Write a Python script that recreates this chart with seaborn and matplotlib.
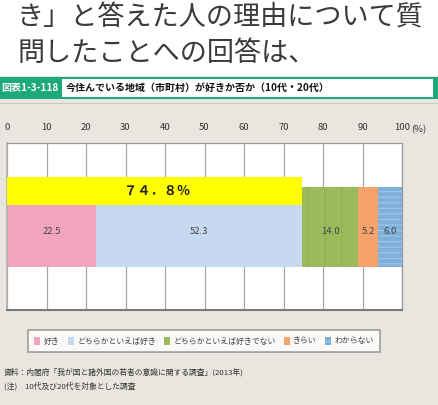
import matplotlib
matplotlib.use("Agg")
import matplotlib.pyplot as plt
import seaborn as sns
import numpy as np
import pandas as pd
from matplotlib.patches import Rectangle

categories = ["好き", "どちらかといえば好き", "どちらかといえば好きでない", "きらい", "わからない"]
values = [22.5, 52.3, 14.0, 5.2, 6.0]
value_labels = ["22.5", "52.3", "14.0", "5.2", "6.0"]
colors = ["#f2a5c1", "#c6d9f0", "#9bbb5b", "#f5a26c", "#7fb0da"]
hatches = [None, None, "|", None, "---"]
hatch_colors = [None, None, "#8db04d", None, "#9cc8ea"]
tick_values = [0, 10, 20, 30, 40, 50, 60, 70, 80, 90, 100]
tick_labels = ["0", "10", "20", "30", "40", "50", "60", "70", "80", "90", "100"]
like_total_label = "７４．８％"
headline = ["き」と答えた人の理由について質", "問したことへの回答は、"]
fig_no = "図表1-3-118"
title = "今住んでいる地域（市町村）が好きか否か（10代・20代）"
notes = ["資料：内閣府「我が国と諸外国の若者の意識に関する調査」(2013年)",
         "(注)　10代及び20代を対象とした調査"]

sns.set_style("white")
plt.rcParams['font.family'] = ['Noto Sans CJK JP', 'DejaVu Sans']
plt.rcParams['hatch.linewidth'] = 0.8

W, H = 438, 405
fig = plt.figure(figsize=(W / 100, H / 100), dpi=100)
fig.patch.set_facecolor("#e8e6df")

def fx(px):
    return px / W

def fy(py):
    return 1 - py / H

# top white area
fig.patches.append(Rectangle((0, fy(76)), 1, 1 - fy(76), transform=fig.transFigure,
                             facecolor="white", edgecolor="none", zorder=0))
# green band
fig.patches.append(Rectangle((0, fy(99)), 1, fy(77) - fy(99), transform=fig.transFigure,
                             facecolor="#1ea97c", edgecolor="none", zorder=1))
fig.patches.append(Rectangle((fx(62), fy(97)), fx(433) - fx(62), fy(79) - fy(97),
                             transform=fig.transFigure, facecolor="white",
                             edgecolor="none", zorder=2))
# thin line under band
fig.patches.append(Rectangle((0, fy(104)), 1, fy(102.5) - fy(104), transform=fig.transFigure,
                             facecolor="#c9c7bf", edgecolor="none", zorder=1))

for i, line in enumerate(headline):
    fig.text(fx(17), fy(18 + i * 35), line, fontsize=19.5, color="#3a3a3a",
             va="center", ha="left")
fig.text(fx(1), fy(88), fig_no, fontsize=7.2, color="white", fontweight="bold",
         va="center", ha="left", zorder=3, fontstretch="condensed")
fig.text(fx(66), fy(88), title, fontsize=7.2, color="#111111", fontweight="bold",
         va="center", ha="left", zorder=3)

# axes
ax = fig.add_axes([fx(7), fy(310), fx(402) - fx(7), fy(143) - fy(310)])
ax.set_facecolor("white")

cum = np.cumsum(values)
bar_h = 80 / 167
for i in reversed(range(len(values))):
    df = pd.DataFrame({"v": [cum[i]], "c": ["all"]})
    sns.barplot(data=df, x="v", y="c", orient="h", color=colors[i], width=bar_h,
                saturation=1, ax=ax, edgecolor="none", linewidth=0, label=categories[i])
    patch = ax.patches[-1]
    if hatches[i]:
        patch.set_hatch(hatches[i])
        patch.set_edgecolor(hatch_colors[i])
        patch.set_linewidth(0)

ax.set_ylim(0.5, -0.5)
ax.set_xlim(0, 100)

# segment labels
starts = cum - np.array(values)
for s, v, lab in zip(starts, values, value_labels):
    ax.text(s + v / 2, 0.03, lab, ha="center", va="center", fontsize=6.8,
            color="#444444", fontstretch="condensed", zorder=5)

# yellow highlight box for "like" total
like_total = values[0] + values[1]
y0 = (177 - 227) / 167
y1 = (205 - 227) / 167
ax.barh(y=(y0 + y1) / 2, width=like_total, height=(y1 - y0), left=0,
        color="#ffff00", edgecolor="none", zorder=4)
ax.text(38, (y0 + y1) / 2, like_total_label, ha="center", va="center",
        fontsize=9.5, fontweight="bold", color="#222222", zorder=6)

ax.set_xticks(tick_values)
ax.set_xticklabels(tick_labels)
ax.xaxis.tick_top()
ax.tick_params(axis="x", length=0, pad=8, labelsize=6.8, labelcolor="#333333")
ax.set_yticks([])
ax.set_xlabel("")
ax.set_ylabel("")
ax.grid(axis="x", color="#a8a8a8", linewidth=0.9)
ax.set_axisbelow(True)
for side in ["top", "right"]:
    ax.spines[side].set_color("#9a9a9a")
    ax.spines[side].set_linewidth(0.9)
ax.spines["left"].set_color("#b0b0b0")
ax.spines["left"].set_linewidth(1.2)
ax.spines["bottom"].set_color("#7a7a7a")
ax.spines["bottom"].set_linewidth(1.5)

fig.text(fx(419), fy(129.5), "(%)", fontsize=6.8, color="#333333", ha="center", va="center")

# legend
handles, labels = ax.get_legend_handles_labels()
order = [labels.index(c) for c in categories]
leg = fig.legend([handles[i] for i in order], [labels[i] for i in order],
                 loc="center", bbox_to_anchor=(fx(204), fy(341)), ncol=5,
                 fontsize=5.7, frameon=True, fancybox=False, handlelength=0.75,
                 handleheight=1.15, handletextpad=0.45, columnspacing=1.0,
                 borderpad=0.85, edgecolor="#8a8a8a")
leg.get_frame().set_linewidth(1.2)
for t in leg.get_texts():
    t.set_color("#444444")
if ax.get_legend() is not None:
    ax.get_legend().remove()

for i, n in enumerate(notes):
    fig.text(fx(4), fy(372 + i * 14), n, fontsize=5.6, color="#333333",
             ha="left", va="center")

fig.savefig("out.png", dpi=100, facecolor=fig.get_facecolor())
